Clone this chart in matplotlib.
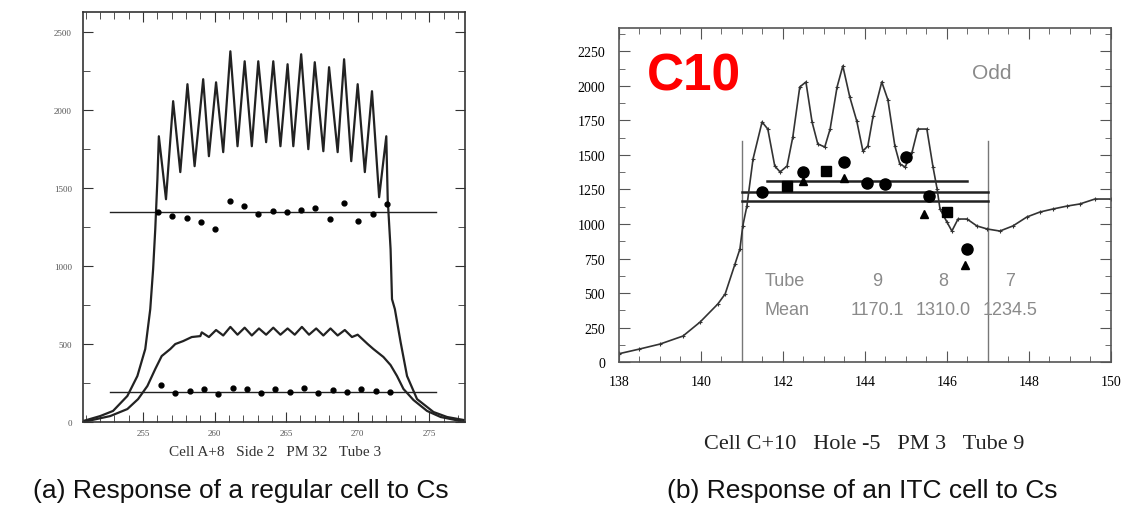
import matplotlib
matplotlib.use('Agg')
import matplotlib.pyplot as plt
from matplotlib.ticker import MultipleLocator

# ---- panel (a): regular cell scan ----
a_hi_x = [250.8, 252.0, 252.9, 253.9, 254.6, 255.15, 255.5, 255.7, 255.85, 256.0,
          256.1, 256.6, 257.1, 257.6, 258.1, 258.6, 259.2, 259.6, 260.1, 260.6,
          261.1, 261.6, 262.1, 262.6, 263.05, 263.6, 264.1, 264.6, 265.1, 265.5,
          266.05, 266.55, 267.0, 267.6, 268.0, 268.6, 269.05, 269.55, 270.0, 270.5,
          271.0, 271.5, 272.0, 272.1, 272.3, 272.4, 272.6, 273.0, 273.45, 274.15,
          275.3, 276.25, 277.4]
a_hi_y = [6, 38, 71, 167, 295, 468, 724, 981, 1237, 1558,
          1833, 1429, 2058, 1603, 2167, 1641, 2199, 1705, 2179, 1731,
          2378, 1769, 2314, 1769, 2314, 1795, 2314, 1769, 2295, 1769,
          2359, 1750, 2308, 1737, 2276, 1731, 2327, 1673, 2167, 1603,
          2122, 1442, 1833, 1429, 1109, 788, 724, 513, 295, 147,
          64, 32, 13]

a_lo_x = [250.8, 252.7, 253.9, 254.65, 255.3, 255.85, 256.3, 256.9, 257.25, 257.8,
          258.4, 259.0, 259.1, 259.6, 260.1, 260.6, 261.1, 261.6, 262.1, 262.6,
          263.1, 263.6, 264.1, 264.6, 265.1, 265.6, 266.1, 266.6, 267.1, 267.6,
          268.1, 268.6, 269.1, 269.6, 270.0, 270.7, 271.1, 271.8, 272.3, 272.75,
          273.2, 273.9, 274.85, 275.8, 277.2, 277.5]
a_lo_y = [0, 38, 83, 147, 231, 340, 423, 468, 500, 519,
          545, 551, 575, 545, 590, 555, 610, 560, 605, 555,
          600, 560, 605, 560, 600, 560, 610, 560, 600, 555,
          600, 555, 590, 545, 560, 500, 468, 417, 365, 295,
          212, 141, 71, 32, 6, 0]

a_dot_hi_x = [256.05, 257.05, 258.05, 259.05, 260.05, 261.05, 262.05, 263.05, 264.05,
              265.05, 266.05, 267.05, 268.05, 269.05, 270.05, 271.05, 272.05]
a_dot_hi_y = [1346, 1320, 1308, 1282, 1237, 1417, 1385, 1333, 1352,
              1346, 1359, 1372, 1301, 1404, 1288, 1333, 1397]
a_dot_lo_x = [256.25, 257.25, 258.25, 259.25, 260.25, 261.25, 262.25, 263.25, 264.25,
              265.25, 266.25, 267.25, 268.25, 269.25, 270.25, 271.25, 272.25]
a_dot_lo_y = [237, 186, 199, 212, 179, 218, 212, 186, 212,
              192, 218, 186, 205, 192, 212, 199, 192]
a_mean_hi = 1346
a_mean_lo = 192
a_mean_x = [252.7, 275.5]

# ---- panel (b): ITC cell scan ----
b_x = [138.0, 138.5, 139.0, 139.56, 139.98, 140.41, 140.59, 140.83, 140.95, 141.02,
       141.12, 141.27, 141.49, 141.63, 141.8, 141.93, 142.1, 142.24, 142.41, 142.56,
       142.71, 142.85, 143.02, 143.15, 143.32, 143.46, 143.63, 143.8, 143.95, 144.07,
       144.2, 144.41, 144.56, 144.73, 144.85, 144.98, 145.15, 145.29, 145.51, 145.66,
       145.76, 145.83, 146.0, 146.12, 146.27, 146.49, 146.73, 146.98, 147.29, 147.61,
       147.95, 148.27, 148.59, 148.93, 149.24, 149.61, 150.0]
b_y = [60, 94, 130, 188, 290, 420, 493, 710, 819, 986,
       1130, 1471, 1739, 1688, 1420, 1377, 1420, 1630, 1993, 2029,
       1739, 1580, 1558, 1688, 1993, 2145, 1920, 1746, 1529, 1565,
       1783, 2029, 1899, 1565, 1435, 1413, 1522, 1688, 1688, 1413,
       1254, 1109, 1014, 949, 1036, 1036, 986, 964, 949, 986,
       1051, 1087, 1109, 1130, 1145, 1181, 1181]

b_circ_x = [141.5, 142.5, 143.5, 144.05, 144.5, 145.0, 145.55, 146.5]
b_circ_y = [1232, 1377, 1449, 1297, 1290, 1486, 1203, 819]
b_sq_x = [142.1, 143.05, 146.0]
b_sq_y = [1275, 1384, 1087]
b_tri_x = [142.5, 143.5, 145.45, 146.45]
b_tri_y = [1310, 1330, 1072, 700]

tubes = ['9', '8', '7']
means = [1170.1, 1310.0, 1234.5]
mean_start = [141.0, 141.6, 141.0]
mean_stop = [147.0, 146.5, 147.0]
mean_order = [2, 0, 1]  # tube8 line on top, then tube7, tube9
tube_x = [144.3, 145.9, 147.55]
walls = [141, 147]

serif = 'Liberation Serif'
sans = 'Liberation Sans'
gray_txt = '#8a8a8a'

fig = plt.figure(figsize=(11.25, 5.1), dpi=100)
ax1 = fig.add_axes([0.0738, 0.1706, 0.3395, 0.8039])
ax2 = fig.add_axes([0.5502, 0.2882, 0.4373, 0.6549])

# panel a
ax1.plot(a_hi_x, a_hi_y, color='#222222', lw=1.6, solid_joinstyle='round')
ax1.plot(a_lo_x, a_lo_y, color='#222222', lw=1.6, solid_joinstyle='round')
ax1.plot(a_mean_x, [a_mean_hi, a_mean_hi], color='#222222', lw=1.0)
ax1.plot(a_mean_x, [a_mean_lo, a_mean_lo], color='#222222', lw=1.0)
ax1.plot(a_dot_hi_x, a_dot_hi_y, 'o', color='black', ms=3.5)
ax1.plot(a_dot_lo_x, a_dot_lo_y, 'o', color='black', ms=3.5)
ax1.set_xlim(250.8, 277.5)
ax1.set_ylim(0, 2630)
ax1.xaxis.set_major_locator(MultipleLocator(5))
ax1.xaxis.set_minor_locator(MultipleLocator(1))
ax1.yaxis.set_major_locator(MultipleLocator(500))
ax1.yaxis.set_minor_locator(MultipleLocator(250))
ax1.tick_params(which='both', direction='in', top=True, right=True,
                labelsize=6.5, labelcolor='#555555', color='#333333')
ax1.tick_params(which='major', length=7)
ax1.tick_params(which='minor', length=5)
ax1.tick_params(axis='x', pad=5)
ax1.tick_params(axis='y', pad=8)
for lab in ax1.get_xticklabels() + ax1.get_yticklabels():
    lab.set_family(serif)
for sp in ax1.spines.values():
    sp.set_color('#333333')
    sp.set_linewidth(1.2)
fig.text(0.2444, 0.1137, 'Cell A+8   Side 2   PM 32   Tube 3', ha='center', va='center',
         family=serif, fontsize=11, color='#333333')

# panel b
for w in walls:
    ax2.plot([w, w], [0, 1600], color='#777777', lw=1.0)
for i in mean_order:
    ax2.plot([mean_start[i], mean_stop[i]], [means[i], means[i]], color='#222222', lw=1.8)
ax2.plot(b_x, b_y, color='#333333', lw=1.2, marker='+', ms=3, mew=0.8)
ax2.plot(b_circ_x, b_circ_y, 'o', color='black', ms=8)
ax2.plot(b_sq_x, b_sq_y, 's', color='black', ms=7)
ax2.plot(b_tri_x, b_tri_y, '^', color='black', ms=6)
ax2.set_xlim(138, 150)
ax2.set_ylim(0, 2420)
ax2.xaxis.set_major_locator(MultipleLocator(2))
ax2.xaxis.set_minor_locator(MultipleLocator(0.5))
ax2.yaxis.set_major_locator(MultipleLocator(250))
ax2.yaxis.set_minor_locator(MultipleLocator(125))
ax2.tick_params(which='both', direction='in', top=True, right=True,
                labelsize=10, color='#555555')
ax2.tick_params(which='major', length=8)
ax2.tick_params(which='minor', length=4)
ax2.tick_params(axis='x', pad=9)
ax2.tick_params(axis='y', pad=10)
for lab in ax2.get_xticklabels() + ax2.get_yticklabels():
    lab.set_family(serif)
for sp in ax2.spines.values():
    sp.set_color('#555555')
    sp.set_linewidth(1.2)

ax2.text(139.83, 2072, 'C10', ha='center', va='center', family=sans,
         fontweight='bold', fontsize=37, color='#ff0000')
ax2.text(147.1, 2101, 'Odd', ha='center', va='center', family=sans,
         fontsize=15, color=gray_txt)
ax2.text(141.55, 594, 'Tube', ha='left', va='center', family=sans, fontsize=13, color=gray_txt)
ax2.text(141.55, 384, 'Mean', ha='left', va='center', family=sans, fontsize=13, color=gray_txt)
for tx, t, m in zip(tube_x, tubes, means):
    ax2.text(tx, 594, t, ha='center', va='center', family=sans, fontsize=13, color=gray_txt)
    ax2.text(tx, 384, f'{m:.1f}', ha='center', va='center', family=sans, fontsize=13, color=gray_txt)

fig.text(0.768, 0.1275, 'Cell C+10   Hole -5   PM 3   Tube 9', ha='center', va='center',
         family=serif, fontsize=16, color='#222222')

# captions
fig.text(0.2142, 0.0373, '(a) Response of a regular cell to Cs', ha='center', va='center',
         family=sans, fontsize=19, color='#111111')
fig.text(0.7662, 0.0373, '(b) Response of an ITC cell to Cs', ha='center', va='center',
         family=sans, fontsize=19, color='#111111')

fig.savefig('out.png', dpi=100, facecolor='white')
